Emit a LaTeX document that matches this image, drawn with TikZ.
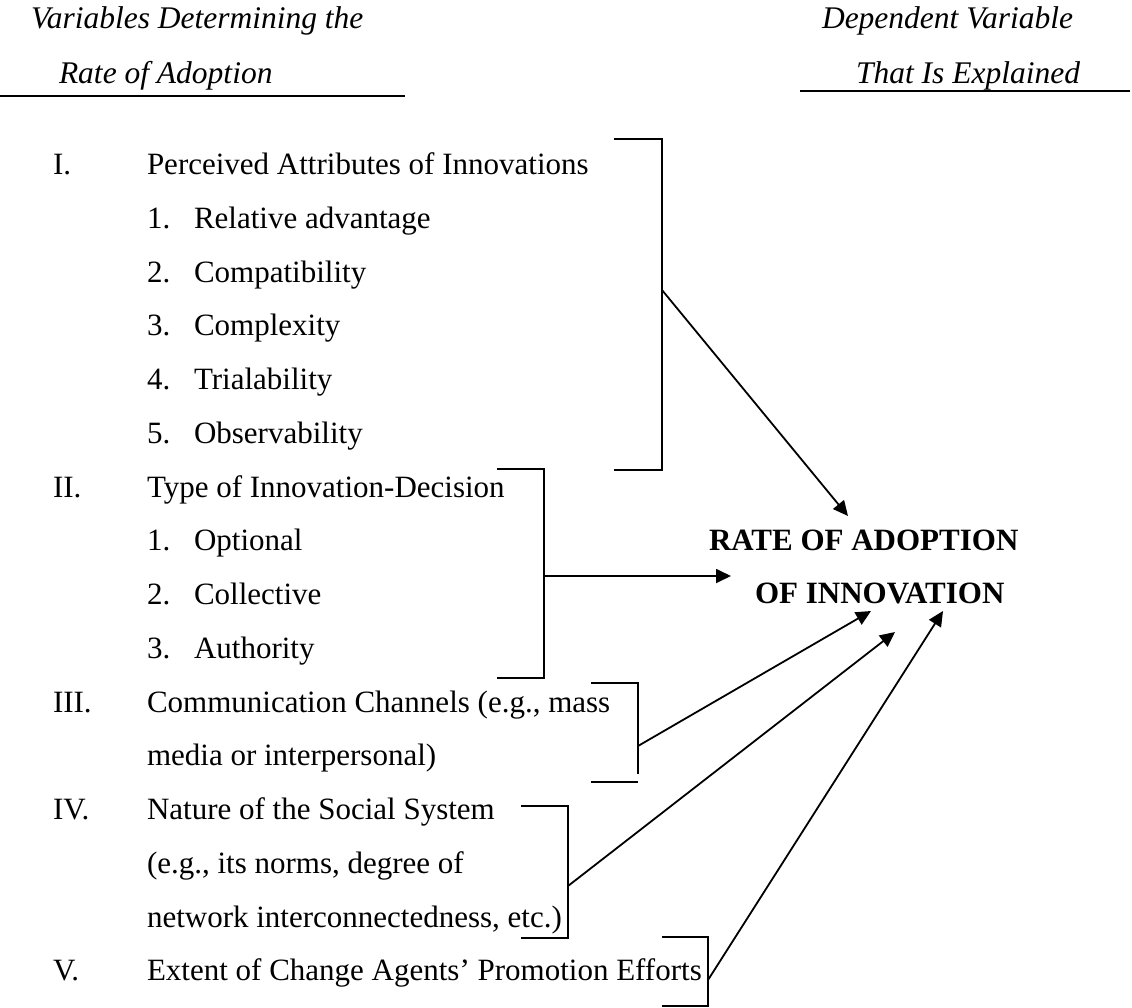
\documentclass[tikz,border=0pt]{standalone}
\usepackage{fontspec}
\setmainfont{Liberation Serif}
\usetikzlibrary{arrows.meta}
\tikzset{
  txt/.style={anchor=base west, inner sep=0pt, outer sep=0pt, font=\fontsize{31}{37}\selectfont},
  hdr/.style={txt, font=\fontsize{31.5}{37}\selectfont\itshape},
  bold/.style={txt, font=\fontsize{31}{37}\selectfont\bfseries},
  rule/.style={line width=1.9pt},
  brk/.style={line width=1.9pt},
  arr/.style={line width=1.8pt, -{Triangle[length=15pt,width=14pt]}}
}
\begin{document}
\begin{tikzpicture}[x=1pt,y=-1pt]
\useasboundingbox (0,0) rectangle (1132,1007);
% headers
\node[hdr] (h1) at (31,28) {Variables Determining the};
\node[hdr] (h2) at (59,83) {Rate of Adoption};
\node[hdr] (h3) at (822,28) {Dependent Variable};
\node[hdr] (h4) at (856,83) {That Is Explained};
\coordinate (rl1) at (0,96); \coordinate (rl2) at (405,96);
\coordinate (rr1) at (800,91); \coordinate (rr2) at (1130,91);
\draw[rule] (rl1) -- (rl2);
\draw[rule] (rr1) -- (rr2);
% list
\node[txt] (n1) at (53,174) {I.};
\node[txt] (t1) at (147,174) {Perceived Attributes of Innovations};
\node[txt] (n11) at (147,228) {1.}; \node[txt] (t11) at (194,228) {Relative advantage};
\node[txt] (n12) at (147,282) {2.}; \node[txt] (t12) at (194,282) {Compatibility};
\node[txt] (n13) at (147,335) {3.}; \node[txt] (t13) at (194,335) {Complexity};
\node[txt] (n14) at (147,389) {4.}; \node[txt] (t14) at (194,389) {Trialability};
\node[txt] (n15) at (147,443) {5.}; \node[txt] (t15) at (194,443) {Observability};
\node[txt] (n2) at (53,497) {II.};
\node[txt] (t2) at (147,497) {Type of Innovation-Decision};
\node[txt] (n21) at (147,550) {1.}; \node[txt] (t21) at (194,550) {Optional};
\node[txt] (n22) at (147,604) {2.}; \node[txt] (t22) at (194,604) {Collective};
\node[txt] (n23) at (147,658) {3.}; \node[txt] (t23) at (194,658) {Authority};
\node[txt] (n3) at (53,712) {III.};
\node[txt] (t3a) at (147,712) {Communication Channels (e.g., mass};
\node[txt] (t3b) at (147,765) {media or interpersonal)};
\node[txt] (n4) at (53,819) {IV.};
\node[txt] (t4a) at (147,819) {Nature of the Social System};
\node[txt] (t4b) at (147,873) {(e.g., its norms, degree of};
\node[txt] (t4c) at (147,927) {network interconnectedness, etc.)};
\node[txt] (n5) at (53,980) {V.};
\node[txt] (t5) at (147,980) {Extent of Change Agents’ Promotion Efforts};
% dependent variable
\node[bold] (dv1) at (709,550) {RATE OF ADOPTION};
\node[bold] (dv2) at (755,603) {OF INNOVATION};
% brackets
\coordinate (b1a) at (614,139); \coordinate (b1b) at (662,139);
\coordinate (b1c) at (662,470); \coordinate (b1d) at (614,470);
\coordinate (b1m) at (662,290);
\draw[brk] (b1a) -- (b1b) -- (b1c) -- (b1d);
\coordinate (b2a) at (497,469); \coordinate (b2b) at (544,469);
\coordinate (b2c) at (544,678); \coordinate (b2d) at (497,678);
\coordinate (b2m) at (544,576);
\draw[brk] (b2a) -- (b2b) -- (b2c) -- (b2d);
\coordinate (b3a) at (591,683); \coordinate (b3b) at (638,683);
\coordinate (b3c) at (638,774); \coordinate (b3d) at (591,782);
\coordinate (b3e) at (638,782);
\coordinate (b3m) at (638,746);
\draw[brk] (b3a) -- (b3b) -- (b3c);
\draw[brk] (b3d) -- (b3e);
\coordinate (b4a) at (521,806); \coordinate (b4b) at (568,806);
\coordinate (b4c) at (568,938); \coordinate (b4d) at (521,938);
\coordinate (b4m) at (568,886);
\draw[brk] (b4a) -- (b4b) -- (b4c) -- (b4d);
\coordinate (b5a) at (662,937); \coordinate (b5b) at (708,937);
\coordinate (b5c) at (708,1006); \coordinate (b5d) at (662,1006);
\coordinate (b5m) at (708,980);
\draw[brk] (b5a) -- (b5b) -- (b5c) -- (b5d);
% arrow targets
\coordinate (e1) at (848,516);
\coordinate (e2) at (731,576);
\coordinate (e3) at (871,611);
\coordinate (e4) at (895,632);
\coordinate (e5) at (943,611);
\draw[arr] (b1m) -- (e1);
\draw[arr] (b2m) -- (e2);
\draw[arr] (b3m) -- (e3);
\draw[arr] (b4m) -- (e4);
\draw[arr] (b5m) -- (e5);
\end{tikzpicture}
\end{document}
